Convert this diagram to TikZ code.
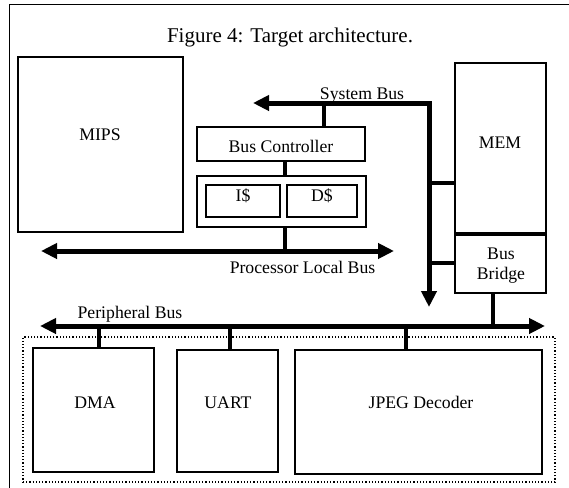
\documentclass[tikz,border=0pt]{standalone}
\usepackage{fontspec}
\setmainfont{Liberation Serif}
\usetikzlibrary{arrows.meta}

\begin{document}
\begin{tikzpicture}[x=1pt, y=-1pt, lbl/.style={inner sep=0pt, anchor=base, font=\fontsize{17.7}{20}\selectfont}]
\tikzstyle{block}=[draw, line width=1.2pt, inner sep=0pt]
\tikzstyle{bus}=[line width=5pt, {Triangle[length=16pt,width=15pt]}-{Triangle[length=16pt,width=15pt]}]
\tikzstyle{link}=[line width=4pt]
\useasboundingbox (0,0) rectangle (569,487);
\clip (0,0) rectangle (569,487);
% outer frame
\draw[line width=1pt] (9,600) -- (9,5) -- (600,5);
\node[lbl, font=\fontsize{21}{24}\selectfont] (title) at (290,42) {Figure 4: Target architecture.};
% blocks
\node[block, minimum width=165pt, minimum height=175pt] (mips) at (100.5,144.5) {};
\node[block, minimum width=168pt, minimum height=34pt] (busctrl) at (281,144) {};
\node[block, minimum width=169pt, minimum height=51pt] (cache) at (281.5,201.5) {};
\node[block, minimum width=74pt, minimum height=32pt] (icache) at (243,201) {};
\node[block, minimum width=70pt, minimum height=32pt] (dcache) at (322,201) {};
\node[block, minimum width=91pt, minimum height=170pt] (mem) at (500.5,148) {};
\node[block, minimum width=91pt, minimum height=60pt] (bridge) at (500.5,263) {};
\node[draw, dotted, line width=1.2pt, inner sep=0pt, minimum width=532pt, minimum height=145pt] (periph) at (289,409.5) {};
\node[block, minimum width=121pt, minimum height=124pt] (dma) at (93.5,410) {};
\node[block, minimum width=101pt, minimum height=122pt] (uart) at (227.5,411) {};
\node[block, minimum width=247pt, minimum height=124pt] (jpeg) at (418.5,412) {};
\draw[line width=4pt] (mem.south west) -- (mem.south east);
% texts
\node[lbl] (mipsT) at (100,140) {MIPS};
\node[lbl] (memT) at (500,148) {MEM};
\node[lbl] (busctrlT) at (281,152) {Bus Controller};
\node[lbl] (icacheT) at (243,201) {I\$};
\node[lbl] (dcacheT) at (322,201) {D\$};
\node[lbl, anchor=center, align=center] (bridgeT) at (501,266) {Bus\\Bridge};
\node[lbl] (sysbusT) at (362,99) {System Bus};
\node[lbl] (plbT) at (302.5,273) {Processor Local Bus};
\node[lbl] (pbT) at (130,318) {Peripheral Bus};
\node[lbl] (dmaT) at (95,408) {DMA};
\node[lbl] (uartT) at (228,408) {UART};
\node[lbl] (jpegT) at (421,408) {JPEG Decoder};
% bus end points and taps
\coordinate (sbL) at (253,103);
\coordinate (sbC) at (429,103);
\coordinate (sbD) at (429,307);
\coordinate (sbtap) at (324,103);
\coordinate (plbL) at (41,251);
\coordinate (plbR) at (394,251);
\coordinate (plbtap) at (285,251);
\coordinate (pbL) at (40,326);
\coordinate (pbR) at (545,326);
% buses
\draw[bus, line join=miter] (sbL) -- (sbC) -- (sbD);
\draw[bus] (plbL) -- (plbR);
\draw[bus] (pbL) -- (pbR);
% connections
\draw[link] (sbtap) -- (busctrl.north -| sbtap);
\draw[link] (busctrl.south -| plbtap) -- (cache.north -| plbtap);
\draw[link] (cache.south -| plbtap) -- (plbtap);
\draw[link] (sbC |- 0,183) -- (mem.west |- 0,183);
\draw[link] (sbC |- bridge.west) -- (bridge.west);
\foreach \n/\x in {dma/99,uart/230,jpeg/406}{\draw[link] (\n.north -| \x,0) -- (\x,326);}
\draw[link] (bridge.south -| 493,0) -- (493,326);
\end{tikzpicture}
\end{document}
